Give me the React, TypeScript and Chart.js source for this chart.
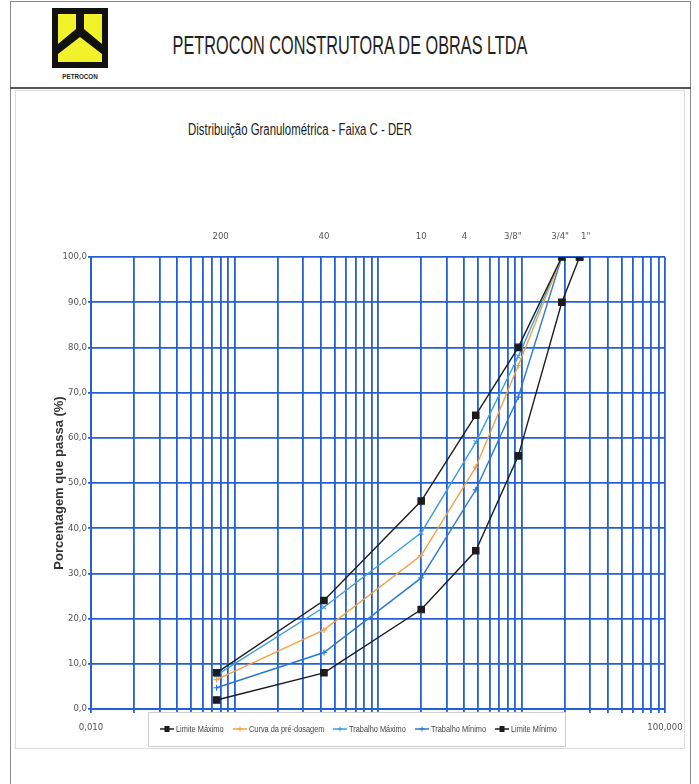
import React, { useEffect, useLayoutEffect, useRef, useState } from 'react';
import { Chart, registerables } from 'chart.js';
Chart.register(...registerables);

// ---- data ----
const sieveSizes = [0.075, 0.42, 2.0, 4.8, 9.5, 19.1, 25.4];
const limiteMaximo = [8, 24, 46, 65, 80, 100, 100];
const curvaPreDosagem = [6.5, 17.5, 34, 53.5, 76, 100, null];
const trabalhoMaximo = [7.5, 22.5, 39, 59, 78, 100, null];
const trabalhoMinimo = [4.7, 12.5, 29, 48.5, 69, 100, null];
const limiteMinimo = [2, 8, 22, 35, 56, 90, 100];

const seriesLabels = [
  'Limite Máximo',
  'Curva da pré-dosagem',
  'Trabalho Máximo',
  'Trabalho Mínimo',
  'Limite Mínimo',
];

const topTickValues = [0.08, 0.42, 2.0, 4.0, 8.7, 18.6, 28];
const topTickLabels = ['200', '40', '10', '4', '3/8"', '3/4"', '1"'];
const gridDecades = [0.01, 0.1, 1, 10];
const gridMultipliers = [1, 2, 3, 4, 5, 6, 7, 8, 9];
const bottomLabelValues = [0.01, 100];
const bottomLabelTexts = ['0,010', '100,000'];

const NARROW = "'Liberation Sans Narrow', 'Arial Narrow', 'DejaVu Sans Condensed', sans-serif";
const SANS = "'Liberation Sans', Arial, sans-serif";
const GRID = '#2460d4';

const toPoints = (vals: (number | null)[]) =>
  sieveSizes
    .map((x, i) => ({ x, y: vals[i] }))
    .filter((p) => p.y !== null) as { x: number; y: number }[];

const gridValues: number[] = [];
gridDecades.forEach((d) => gridMultipliers.forEach((m) => gridValues.push(+(d * m).toPrecision(6))));
gridValues.push(100);

const legendPlugin = {
  id: 'boxLegend',
  afterDraw(chart: any, _args: any, opts: any) {
    const ctx = chart.ctx as CanvasRenderingContext2D;
    const { left, top, width, height, itemX, textScale } = opts;
    ctx.save();
    ctx.fillStyle = '#ffffff';
    ctx.fillRect(left, top, width, height);
    ctx.strokeStyle = '#cfcfcf';
    ctx.lineWidth = 1;
    ctx.strokeRect(left + 0.5, top + 0.5, width, height);
    ctx.font = `9px ${SANS}`;
    ctx.textBaseline = 'middle';
    ctx.textAlign = 'left';
    chart.data.datasets.forEach((ds: any, i: number) => {
      const x = itemX[i];
      const y = top + height / 2;
      ctx.strokeStyle = ds.borderColor;
      ctx.lineWidth = 1.5;
      ctx.beginPath();
      ctx.moveTo(x, y);
      ctx.lineTo(x + 14, y);
      ctx.stroke();
      const cx = x + 7;
      if (ds.pointStyle === 'rect') {
        ctx.fillStyle = ds.pointBackgroundColor;
        ctx.fillRect(cx - 2.5, y - 3, 5, 6);
      } else {
        ctx.strokeStyle = ds.pointBorderColor;
        ctx.lineWidth = 1;
        ctx.beginPath();
        ctx.moveTo(cx - 2.5, y);
        ctx.lineTo(cx + 2.5, y);
        ctx.moveTo(cx, y - 2.5);
        ctx.lineTo(cx, y + 2.5);
        ctx.stroke();
      }
      ctx.save();
      ctx.translate(x + 16, y + 0.5);
      ctx.scale(textScale, 1);
      ctx.fillStyle = '#444';
      ctx.fillText(ds.label, 0, 0);
      ctx.restore();
    });
    ctx.restore();
  },
};

function FitText(props: {
  text: string;
  cx: number;
  cy: number;
  width: number;
  style: React.CSSProperties;
}) {
  const ref = useRef<HTMLSpanElement>(null);
  const [k, setK] = useState(1);
  useLayoutEffect(() => {
    if (ref.current) {
      const w = ref.current.offsetWidth;
      if (w > 0) setK(props.width / w);
    }
  }, [props.text, props.width]);
  return (
    <span
      ref={ref}
      style={{
        position: 'absolute',
        left: props.cx,
        top: props.cy,
        whiteSpace: 'nowrap',
        lineHeight: 1,
        transform: `translate(-50%, -50%) scaleX(${k})`,
        ...props.style,
      }}
    >
      {props.text}
    </span>
  );
}

function Logo() {
  return (
    <svg
      width={56}
      height={60}
      viewBox="0 0 56 60"
      style={{ position: 'absolute', left: 52, top: 8 }}
    >
      <rect x={0} y={0} width={56} height={60} fill="#111" />
      <polygon points="6,6 24,6 24,21 6,36" fill="#f2f22a" />
      <polygon points="32,6 50,6 50,36 32,21" fill="#f2f22a" />
      <polygon points="6,46 28,29 50,46 50,54 6,54" fill="#f2f22a" />
    </svg>
  );
}

export default function App() {
  const canvasRef = useRef<HTMLCanvasElement>(null);

  useEffect(() => {
    document.body.style.margin = '0';
    const canvas = canvasRef.current;
    if (!canvas) return;
    const seriesValues = [limiteMaximo, curvaPreDosagem, trabalhoMaximo, trabalhoMinimo, limiteMinimo];
    const colors = ['#1c1c1c', '#f4a244', '#3c9ee0', '#2a78d2', '#1c1c1c'];
    const styles = ['rect', 'cross', 'crossRot', 'cross', 'rect'];
    const radii = [4.5, 3, 3, 3, 4.5];
    const chart = new Chart(canvas, {
      type: 'line',
      data: {
        datasets: seriesValues.map((vals, i) => ({
          label: seriesLabels[i],
          data: toPoints(vals),
          borderColor: colors[i],
          backgroundColor: colors[i],
          pointBackgroundColor: colors[i],
          pointBorderColor: colors[i],
          pointStyle: styles[i] as any,
          pointRadius: radii[i],
          pointBorderWidth: 1.2,
          borderWidth: 1.4,
          tension: 0,
          fill: false,
          xAxisID: 'x',
          yAxisID: 'y',
        })),
      },
      options: {
        responsive: false,
        animation: false,
        devicePixelRatio: 1,
        layout: { padding: { top: 127, left: 0, right: 20, bottom: 0 } },
        plugins: {
          legend: { display: false },
          tooltip: { enabled: false },
          title: { display: false },
          boxLegend: {
            left: 133,
            top: 622,
            width: 417,
            height: 34,
            itemX: [145, 218, 318, 400, 480],
            textScale: 0.82,
          },
        } as any,
        scales: {
          x: {
            type: 'logarithmic',
            position: 'bottom',
            min: 0.01,
            max: 100,
            afterBuildTicks: (s: any) => {
              s.ticks = gridValues.map((v) => ({ value: v }));
            },
            afterFit: (s: any) => {
              s.height = 40;
              s.paddingLeft = 0;
              s.paddingRight = 0;
            },
            ticks: {
              autoSkip: false,
              maxRotation: 0,
              minRotation: 0,
              padding: 9,
              color: '#555',
              font: { family: NARROW, size: 9.5 },
              callback: (v: any) => {
                const idx = bottomLabelValues.findIndex((b) => Math.abs(b - Number(v)) < b * 1e-6);
                return idx >= 0 ? bottomLabelTexts[idx] : '';
              },
            },
            grid: { color: GRID, lineWidth: 1.8, tickLength: 4, drawTicks: true },
            border: { color: GRID, width: 2 },
          },
          x2: {
            type: 'logarithmic',
            position: 'top',
            min: 0.01,
            max: 100,
            afterBuildTicks: (s: any) => {
              s.ticks = topTickValues.map((v) => ({ value: v }));
            },
            afterFit: (s: any) => {
              s.height = 40;
              s.paddingLeft = 0;
              s.paddingRight = 0;
            },
            ticks: {
              autoSkip: false,
              maxRotation: 0,
              minRotation: 0,
              padding: 15,
              color: '#555',
              font: { family: NARROW, size: 9.5 },
              callback: (_v: any, i: number) => topTickLabels[i],
            },
            grid: { display: false, drawTicks: false },
            border: { display: false },
          },
          y: {
            type: 'linear',
            min: 0,
            max: 100,
            afterFit: (s: any) => {
              s.width = 76;
            },
            ticks: {
              stepSize: 10,
              padding: 1,
              color: '#555',
              font: { family: NARROW, size: 9.5 },
              callback: (v: any) => Number(v).toFixed(1).replace('.', ','),
            },
            grid: { color: GRID, lineWidth: 1.8, tickLength: 3 },
            border: { color: GRID, width: 2 },
            title: {
              display: true,
              text: 'Porcentagem que passa (%)',
              color: '#333',
              font: { family: SANS, size: 13, weight: 'bold' },
              padding: { top: 37, bottom: 0 },
            },
          },
        } as any,
      },
      plugins: [legendPlugin as any],
    });
    return () => chart.destroy();
  }, []);

  return (
    <div style={{ position: 'relative', width: 699, height: 784, background: '#fff', overflow: 'hidden' }}>
      {/* outer frame */}
      <div
        style={{
          position: 'absolute',
          left: 10,
          top: 1,
          width: 681,
          height: 820,
          border: '1.5px solid #8a8a8a',
          boxSizing: 'border-box',
        }}
      />
      {/* header separator */}
      <div style={{ position: 'absolute', left: 10, top: 87, width: 681, height: 2, background: '#555' }} />
      {/* inner box */}
      <div
        style={{
          position: 'absolute',
          left: 15,
          top: 90,
          width: 670,
          height: 659,
          border: '1px solid #dcdcdc',
          boxSizing: 'border-box',
        }}
      />
      <Logo />
      <FitText
        text="PETROCON"
        cx={80}
        cy={77}
        width={35}
        style={{ fontFamily: SANS, fontSize: 8, fontWeight: 'bold', color: '#222' }}
      />
      <FitText
        text="PETROCON CONSTRUTORA DE OBRAS LTDA"
        cx={350}
        cy={45}
        width={355}
        style={{ fontFamily: SANS, fontSize: 26, color: '#222' }}
      />
      <FitText
        text="Distribuição Granulométrica - Faixa C - DER"
        cx={300}
        cy={130}
        width={224}
        style={{ fontFamily: SANS, fontSize: 16, color: '#222' }}
      />
      <canvas
        ref={canvasRef}
        width={670}
        height={659}
        style={{ position: 'absolute', left: 15, top: 90, width: 670, height: 659 }}
      />
    </div>
  );
}
